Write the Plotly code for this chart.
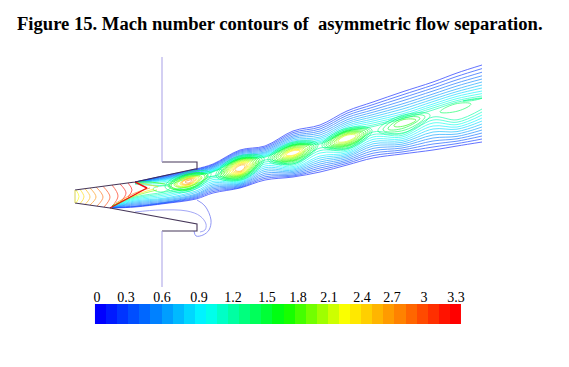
import plotly.graph_objects as go
from plotly.colors import sample_colorscale

TITLE = "Figure 15. Mach number contours of  asymmetric flow separation."
TICK_LABELS = ["0", "0.3", "0.6", "0.9", "1.2", "1.5", "1.8", "2.1", "2.4", "2.7", "3", "3.3"]
TICK_X = [97, 126, 162, 199, 233, 267, 298, 329, 362, 392, 424, 456]
BAR_LEVELS = [0.1 * i for i in range(33)]
MACH_SCALE = [[0, "#0000ff"], [0.15, "#0080ff"], [0.285, "#00ffff"], [0.5, "#00ff00"],
              [0.67, "#ffff00"], [0.82, "#ff8000"], [0.96, "#ff0000"], [1, "#ff0000"]]

# Jet shear-layer contours: one row per station, outer contour first
UPPER_X = [135, 165, 196, 213, 240, 265, 293, 320, 347, 373, 402, 433, 457, 482]
UPPER_Y = [
    [182, 182.1, 182.2, 182.3, 182.4, 182.5, 182.7, 182.9, 183.1, 183.4, 183.7, 184],
    [175.5, 176, 176.6, 177.2, 177.8, 178.4, 179, 179.6, 180.4, 181.5, 183, 185],
    [169, 169.6, 170.2, 170.8, 171.4, 172, 172.6, 173.2, 173.8, 174.4, 175, 175.6],
    [164, 164.8, 165.6, 166.4, 167.2, 168, 168.8, 169.6, 170.2, 170.8, 171.4, 172],
    [150, 151, 152, 153, 154, 155, 155.8, 156.6, 157.4, 158, 158.6, 159.2],
    [146, 147.2, 148.4, 149.6, 150.8, 152, 153, 154, 155, 155.8, 156.6, 157.3],
    [131, 132.6, 134.2, 135.8, 137.2, 138.6, 140, 141.2, 142.4, 143.4, 144.4, 145.2],
    [125, 127, 129, 131, 133, 135, 137, 138.6, 140.2, 141.6, 142.8, 144],
    [111, 113.2, 115.4, 117.6, 119.8, 121.8, 123.6, 125.4, 127, 128.6, 130, 131.2],
    [102, 104.6, 107.2, 109.8, 112.2, 114.6, 116.8, 119, 121, 123, 125, 126.6],
    [92, 95, 98, 101, 104, 106.6, 109.2, 111.8, 114, 116, 117.6, 119],
    [82, 85, 88, 91, 94, 96.6, 99.2, 101.6, 104, 106, 108, 110],
    [73, 76.4, 79.8, 83, 86, 89, 91.6, 94, 96.4, 98.6, 100.6, 102.2],
    [65, 68.6, 72.2, 75.8, 79, 82, 85, 88, 91, 93.6, 96, 98.4],
]
LOWER_X = [112, 135, 165, 196, 213, 240, 265, 293, 320, 347, 373, 402, 433, 457, 482]
LOWER_Y = [
    [208, 207.8, 207.6, 207.4, 207.2, 207, 206.8, 206.6, 206.4, 206.2, 206, 205.8],
    [207, 206.5, 206, 205, 204, 203, 202, 201, 200, 199, 198, 197],
    [203.5, 203, 202.5, 202, 201, 200, 199, 198, 196.5, 195, 193.5, 192],
    [199, 198, 197, 196, 195, 194, 192.5, 191, 189, 187.5, 186, 184],
    [193, 191.6, 190.2, 188.8, 187.4, 186, 184.6, 183, 181.4, 179.6, 177.8, 176],
    [188, 187.4, 186.6, 185.8, 185, 184.2, 183.4, 182.6, 181.8, 181, 180, 179],
    [180, 178.4, 176.8, 175, 173.2, 171.4, 169.6, 167.8, 166, 164, 162, 160],
    [177, 176, 175, 173.8, 172.6, 171.4, 170.2, 169, 167.8, 166.6, 165.2, 164],
    [172, 170, 168, 166, 164, 162, 160, 158, 156, 153, 150.6, 148],
    [165, 163.4, 161.8, 160.2, 158.6, 157, 155.6, 154.2, 152.8, 151.4, 150, 148.6],
    [158, 155.6, 153.2, 150.8, 148.4, 146, 143.8, 141.6, 139.4, 137, 134.6, 132],
    [154, 152, 150, 148, 146, 144.2, 142.4, 140.6, 138.8, 137, 135.4, 133.8],
    [150, 147, 144, 141, 138, 135, 132, 129, 126, 123, 120, 117],
    [146, 143.6, 141.2, 138.8, 136.4, 134, 131.6, 129.2, 127, 124.6, 122.2, 119.8],
    [142, 139, 136, 133, 130, 127, 124, 121, 118, 115, 112, 109],
]
SHEAR_MACH = [0.1, 0.2, 0.3, 0.4, 0.5, 0.6, 0.7, 0.8, 0.9, 1.0, 1.1, 1.2]

# Closed cells of the shock train: Mach, then left, top, right, bottom points
CELLS = [
    (1.3, 165, 187, 186, 172.5, 211, 173.5, 189, 191.5),
    (1.5, 168, 186, 187, 174, 208, 175, 189, 190),
    (1.6, 169.5, 186, 187, 174.7, 206.5, 175.5, 189, 189.2),
    (1.7, 171, 186, 187, 175.5, 205, 176, 189, 188.5),
    (1.9, 174, 185, 187, 176.5, 202, 177, 189, 187),
    (2.0, 175.5, 184.8, 187, 177, 200.5, 177.5, 189, 186.5),
    (2.1, 177, 184.5, 187, 177.5, 199, 178, 189, 186),
    (2.3, 180, 184, 187, 178.5, 197, 178.5, 189, 185),
    (2.4, 181, 183.5, 187, 179, 195.5, 179, 189, 184.5),
    (2.5, 182, 183, 187, 179.5, 194, 179.5, 189, 184),
    (2.7, 185, 182, 188, 180.5, 192, 180, 189, 183),
    (1.3, 216, 176, 236, 157, 264, 158, 244, 179),
    (1.4, 218, 175.5, 237, 157.7, 262, 159, 243, 178.2),
    (1.5, 220, 175, 238, 158.5, 260, 160, 242, 177.5),
    (1.6, 221.5, 174.5, 238, 159.2, 258.5, 160.5, 242, 176.8),
    (1.7, 223, 174, 238, 160, 257, 161, 242, 176),
    (1.8, 224.5, 173.5, 238.5, 160.5, 255.5, 161.5, 241.5, 175.5),
    (1.9, 226, 173, 239, 161, 254, 162, 241, 175),
    (2.0, 227.5, 172.5, 239, 161.7, 252.5, 162.5, 241, 174.5),
    (2.1, 229, 172, 239, 162.5, 251, 163, 241, 174),
    (2.2, 230.5, 171.5, 239, 163.2, 249.5, 163.5, 241, 173.2),
    (2.3, 232, 171, 239, 164, 248, 164, 241, 172.5),
    (2.4, 233.5, 170.5, 239.5, 164.7, 246.5, 164.7, 241, 171.7),
    (2.5, 235, 170, 240, 165.5, 245, 165.5, 241, 171),
    (1.3, 268, 160, 290, 143, 318, 144, 296, 163),
    (1.4, 270, 159.5, 290.5, 144, 316, 145, 295.5, 162),
    (1.5, 272, 159, 291, 145, 314, 146, 295, 161),
    (1.6, 274, 158.5, 291, 145.7, 312, 146.5, 295, 160.2),
    (1.7, 276, 158, 291, 146.5, 310, 147, 295, 159.5),
    (1.8, 278, 157.5, 291.5, 147.2, 308, 147.7, 294.5, 158.7),
    (1.9, 280, 157, 292, 148, 306, 148.5, 294, 158),
    (2.0, 281.5, 156.5, 292, 148.7, 304.5, 149.2, 294, 157.2),
    (2.1, 283, 156, 292, 149.5, 303, 150, 294, 156.5),
    (2.2, 284.5, 155.5, 292, 150.2, 301.5, 150.5, 294, 155.7),
    (2.3, 286, 155, 292, 151, 300, 151, 294, 155),
    (1.3, 322, 146, 344, 129, 372, 130, 350, 148),
    (1.4, 324, 145.5, 344.5, 130, 370, 130.5, 349.5, 147),
    (1.5, 326, 145, 345, 131, 368, 131, 349, 146),
    (1.6, 328, 144.5, 345, 131.7, 366, 132, 349, 145.2),
    (1.7, 330, 144, 345, 132.5, 364, 133, 349, 144.5),
    (1.8, 332, 143.5, 345.5, 133.2, 362, 133.5, 348.5, 143.7),
    (1.9, 334, 143, 346, 134, 360, 134, 348, 143),
    (2.0, 336, 142.2, 346, 134.7, 358, 134.7, 348, 142),
    (2.1, 338, 141.5, 346, 135.5, 356, 135.5, 348, 141),
    (1.3, 378, 131, 400, 116, 430, 115, 406, 132),
    (1.4, 383, 130, 401, 117.2, 425, 116.5, 405, 130),
    (1.5, 388, 129, 402, 118.5, 420, 118, 404, 128),
    (1.7, 394, 126, 402, 120, 416, 120, 404, 126),
    (1.4, 440, 112, 455, 104, 471, 104, 458, 111),
    (1.3, 463, 101, 473, 99, 482, 98, 473, 100.5),
    (1.3, 153, 189, 161, 186, 171, 187, 162, 192),
    (1.2, 207, 176, 214, 171, 222, 170, 215, 176),
]

# Nozzle contours: Mach, then top, middle and bottom points
NOZZLE_ARCS = [
    (2.2, 76, 190, 79, 196.5, 76, 203),
    (2.35, 80, 189.4, 84, 197, 80, 203.7),
    (2.5, 85, 188.7, 90, 197, 85, 204.4),
    (2.65, 90, 188, 96, 197, 90, 205),
    (2.8, 96, 187, 103, 197, 97, 206),
    (2.95, 103, 186.3, 110, 197, 104, 207),
    (3.05, 112, 185, 118, 196, 112, 206.5),
    (3.15, 120, 184, 126, 193, 120, 202.5),
    (3.25, 128, 183, 132, 190, 128, 197),
]
SHOCK_X = [135, 147, 110]
SHOCK_Y = [182, 188, 208]
FAN_LINES = [
    (2.7, 116, 203, 135, 193, 150, 188),
    (2.3, 114, 205, 135, 195, 154, 189),
    (1.9, 112, 206, 135, 196, 157, 190),
    (2.4, 137, 182.5, 146, 184, 158, 187),
    (1.8, 137, 182, 150, 182, 165, 184),
]

LOOP_A_X = [197, 205, 211, 209, 203, 196, 194]
LOOP_A_Y = [200, 206, 220, 230, 235, 236, 231]
LOOP_B_X = [135, 160, 187, 200, 206, 205, 200]
LOOP_B_Y = [212, 210, 211, 216, 224, 230, 232]

WALL_TOP_X = [75, 135, 195, 197, 197, 162]
WALL_TOP_Y = [190, 182, 169, 169, 162, 162]
WALL_BOTTOM_X = [75, 110, 197, 197, 162]
WALL_BOTTOM_Y = [203, 208, 224, 231, 231]
WALL_INLET_X = [75, 75]
WALL_INLET_Y = [190, 203]
PLATE_TOP_X = [162, 162]
PLATE_TOP_Y = [57, 162]
PLATE_BOTTOM_X = [162, 162]
PLATE_BOTTOM_Y = [231, 287]


def colour(mach):
    return sample_colorscale(MACH_SCALE, min(mach / 3.3, 1))[0]


fig = go.Figure()


def line(x, y, col, width=0.85, opacity=0.72, spline=True, smoothing=1.0):
    fig.add_trace(go.Scatter(
        x=x, y=y, mode="lines", opacity=opacity, hoverinfo="skip",
        line=dict(color=col, width=width, shape="spline" if spline else "linear", smoothing=smoothing),
    ))


for k, mach in enumerate(SHEAR_MACH):
    line(UPPER_X, [row[k] for row in UPPER_Y], colour(mach))
    line(LOWER_X, [row[k] for row in LOWER_Y], colour(mach))

for mach, xl, yl, xt, yt, xr, yr, xb, yb in CELLS:
    line([xl, xt, xr, xb, xl], [yl, yt, yr, yb, yl], colour(mach), smoothing=1.3)

for mach, x1, y1, x2, y2, x3, y3 in NOZZLE_ARCS + FAN_LINES:
    line([x1, x2, x3], [y1, y2, y3], colour(mach))

line(SHOCK_X, SHOCK_Y, "#f01010", 1.4, 1, False)
line(LOOP_A_X, LOOP_A_Y, "#4a55f0")
line(LOOP_B_X, LOOP_B_Y, "#6a70f0")

for x, y in [(WALL_TOP_X, WALL_TOP_Y), (WALL_BOTTOM_X, WALL_BOTTOM_Y)]:
    line(x, y, "#3c2c50", 1.1, 0.95, False)
line(WALL_INLET_X, WALL_INLET_Y, "#d8d040", 1.0, 0.9, False)
for x, y in [(PLATE_TOP_X, PLATE_TOP_Y), (PLATE_BOTTOM_X, PLATE_BOTTOM_Y)]:
    line(x, y, "#a79fe6", 1.0, 1, False)

fig.add_trace(go.Heatmap(
    z=[BAR_LEVELS], x0=100.5, dx=11.09, y0=314, dy=20,
    zmin=0, zmax=3.3, colorscale=MACH_SCALE, showscale=False, hoverinfo="skip",
))
fig.add_trace(go.Scatter(
    x=TICK_X, y=[298] * len(TICK_X), mode="text", text=TICK_LABELS, hoverinfo="skip",
    textposition="middle center",
    textfont=dict(family="Liberation Serif", size=14, color="#000000"),
))

fig.add_annotation(
    x=15, y=23, xref="x", yref="y", xanchor="left", yanchor="middle", showarrow=False,
    text="<b>" + TITLE + "</b>",
    font=dict(family="Liberation Serif", size=18.6, color="#000000"),
)

fig.update_layout(
    width=561, height=359, margin=dict(l=0, r=0, t=0, b=0),
    paper_bgcolor="white", plot_bgcolor="white", showlegend=False,
    xaxis=dict(range=[8, 569], visible=False, fixedrange=True),
    yaxis=dict(range=[367, 8], visible=False, fixedrange=True),
)
fig.write_html("out.html", config={"displayModeBar": False, "responsive": False})
